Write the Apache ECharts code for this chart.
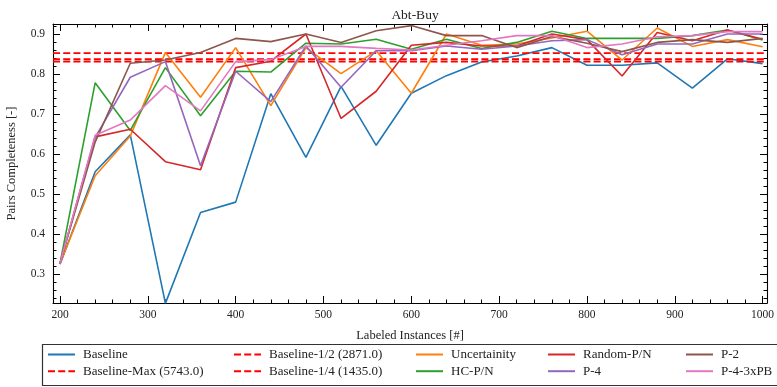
<!DOCTYPE html>
<html>
<head>
<meta charset="utf-8">
<script src="https://cdn.jsdelivr.net/npm/echarts@6/dist/echarts.min.js"></script>
<style>html,body{margin:0;padding:0;background:#fff}#c{width:777px;height:387px}</style>
</head>
<body>
<div id="c"></div>
<script>
const labeled = [200,240,280,320,360,400,440,480,520,560,600,640,680,720,760,800,840,880,920,960,1000];
const baseline    = [0.325,0.556,0.648,0.227,0.454,0.480,0.751,0.592,0.769,0.622,0.752,0.796,0.830,0.845,0.866,0.822,0.822,0.828,0.765,0.838,0.826];
const uncertainty = [0.326,0.546,0.645,0.854,0.742,0.866,0.721,0.866,0.801,0.858,0.752,0.900,0.872,0.875,0.890,0.907,0.835,0.915,0.869,0.886,0.868];
const hcPN        = [0.327,0.778,0.659,0.816,0.696,0.807,0.805,0.877,0.875,0.887,0.862,0.887,0.864,0.879,0.907,0.889,0.889,0.889,0.896,0.910,0.885];
const randomPN    = [0.327,0.643,0.662,0.581,0.561,0.816,0.832,0.900,0.689,0.757,0.872,0.879,0.870,0.870,0.900,0.886,0.795,0.904,0.883,0.910,0.887];
const p4          = [0.327,0.642,0.792,0.831,0.571,0.807,0.731,0.870,0.767,0.858,0.858,0.870,0.862,0.870,0.883,0.886,0.848,0.875,0.875,0.900,0.900];
const p2          = [0.327,0.630,0.827,0.835,0.854,0.889,0.881,0.900,0.879,0.908,0.921,0.896,0.896,0.866,0.894,0.877,0.856,0.879,0.886,0.879,0.889];
const p43xPB      = [0.327,0.647,0.685,0.771,0.708,0.831,0.836,0.869,0.869,0.864,0.860,0.872,0.883,0.896,0.896,0.866,0.875,0.893,0.896,0.906,0.906];
const baselineMax  = 0.852;
const baselineHalf = 0.837;
const baselineQuarter = 0.831;
const xTicks = [200,300,400,500,600,700,800,900,1000];
const yTicks = [0.3,0.4,0.5,0.6,0.7,0.8,0.9];
const X_MIN = 192, X_MAX = 1005, Y_MIN = 0.228, Y_MAX = 0.925;

const xMinor = []; for (let v = 200; v <= 1000; v += 20) if (v % 100 !== 0) xMinor.push(v);
const yMinor = []; for (let k = 12; k <= 46; k++) if (k % 5 !== 0) yMinor.push(+(k * 0.02).toFixed(2));

const FONT = 'Liberation Serif';
const TXT = '#222';

function pairs(ys){ return labeled.map((x,i)=>[x, ys[i]]); }
function hline(v){ return [[X_MIN, v],[X_MAX, v]]; }

function xAxisDef(pos, ticks, len, showLine, showLabel){
  return {
    type:'value', gridIndex:0, position:pos, min:X_MIN, max:X_MAX, offset:0,
    axisLine:{show:showLine, onZero:false, lineStyle:{color:'#000', width:1.1}},
    axisTick:{show:true, inside:true, length:len, customValues:ticks, lineStyle:{color:'#000', width:1}},
    axisLabel:{show:showLabel, customValues:ticks, margin:6, color:TXT, fontFamily:FONT, fontSize:11.5,
      formatter:(v)=>String(Math.round(v))},
    splitLine:{show:false}, minorTick:{show:false}
  };
}
function yAxisDef(pos, ticks, len, showLine, showLabel){
  return {
    type:'value', gridIndex:0, position:pos, min:Y_MIN, max:Y_MAX, offset:0,
    axisLine:{show:showLine, onZero:false, lineStyle:{color:'#000', width:1.1}},
    axisTick:{show:true, inside:true, length:len, customValues:ticks, lineStyle:{color:'#000', width:1}},
    axisLabel:{show:showLabel, customValues:ticks, margin:8, color:TXT, fontFamily:FONT, fontSize:11.5,
      formatter:(v)=>v.toFixed(1)},
    splitLine:{show:false}, minorTick:{show:false}
  };
}

const xAxes = [
  Object.assign(xAxisDef('bottom', xTicks, 7, true, true), {name:'Labeled Instances [#]', nameLocation:'middle', nameGap:26,
    nameTextStyle:{color:TXT, fontFamily:FONT, fontSize:12.5}}),
  xAxisDef('bottom', xMinor, 3.5, false, false),
  xAxisDef('top', xTicks, 7, true, false),
  xAxisDef('top', xMinor, 3.5, false, false)
];
const yAxes = [
  Object.assign(yAxisDef('left', yTicks, 7, true, true), {name:'Pairs Completeness [-]', nameLocation:'middle', nameGap:35,
    nameTextStyle:{color:TXT, fontFamily:FONT, fontSize:12.5}}),
  yAxisDef('left', yMinor, 3.5, false, false),
  yAxisDef('right', yTicks, 7, true, false),
  yAxisDef('right', yMinor, 3.5, false, false)
];

function lineSeries(name, data, color, dashed){
  return {
    name, type:'line', xAxisIndex:0, yAxisIndex:0, data, symbol:'none', showSymbol:false,
    lineStyle:{color, width: dashed ? 1.8 : 1.6, type: dashed ? [7,3.2] : 'solid'},
    itemStyle:{color}, animation:false, silent:true, clip:true
  };
}

const series = [
  lineSeries('Baseline', pairs(baseline), '#1f77b4', false),
  lineSeries('Baseline-Max (5743.0)', hline(baselineMax), '#ff0000', true),
  lineSeries('Baseline-1/2 (2871.0)', hline(baselineHalf), '#ff0000', true),
  lineSeries('Baseline-1/4 (1435.0)', hline(baselineQuarter), '#ff0000', true),
  lineSeries('Uncertainity', pairs(uncertainty), '#ff7f0e', false),
  lineSeries('HC-P/N', pairs(hcPN), '#2ca02c', false),
  lineSeries('Random-P/N', pairs(randomPN), '#d62728', false),
  lineSeries('P-4', pairs(p4), '#9467bd', false),
  lineSeries('P-2', pairs(p2), '#8c564b', false),
  lineSeries('P-4-3xPB', pairs(p43xPB), '#e377c2', false)
];

const legendCols = [
  {left:47, items:['Baseline','Baseline-Max (5743.0)']},
  {left:233, items:['Baseline-1/2 (2871.0)','Baseline-1/4 (1435.0)']},
  {left:415, items:['Uncertainity','HC-P/N']},
  {left:547, items:['Random-P/N','P-4']},
  {left:685, items:['P-2','P-4-3xPB']}
];
const legends = legendCols.map(c => ({
  orient:'vertical', left:c.left, top:348, padding:0, itemGap:3.7, itemWidth:27, itemHeight:14,
  data:c.items, selectedMode:false,
  itemStyle:{opacity:0, borderWidth:0},
  textStyle:{color:TXT, fontFamily:FONT, fontSize:13, padding:[0,0,0,3]}
}));

const chart = echarts.init(document.getElementById('c'), null, {renderer:'canvas'});
chart.setOption({
  animation:false,
  backgroundColor:'#fff',
  title:{text:'Abt-Buy', left:410, top:3, textAlign:'center',
    textStyle:{color:TXT, fontFamily:FONT, fontSize:13.5, fontWeight:'normal'}},
  grid:{left:53, top:24, width:714, height:279, containLabel:false, outerBoundsMode:'none'},
  xAxis:xAxes,
  yAxis:yAxes,
  legend:legends,
  graphic:[{type:'rect', shape:{x:42.5, y:344.5, width:760, height:41}, style:{fill:'none', stroke:'#333', lineWidth:1.2}, silent:true, z:-1}],
  series
});
</script>
</body>
</html>
